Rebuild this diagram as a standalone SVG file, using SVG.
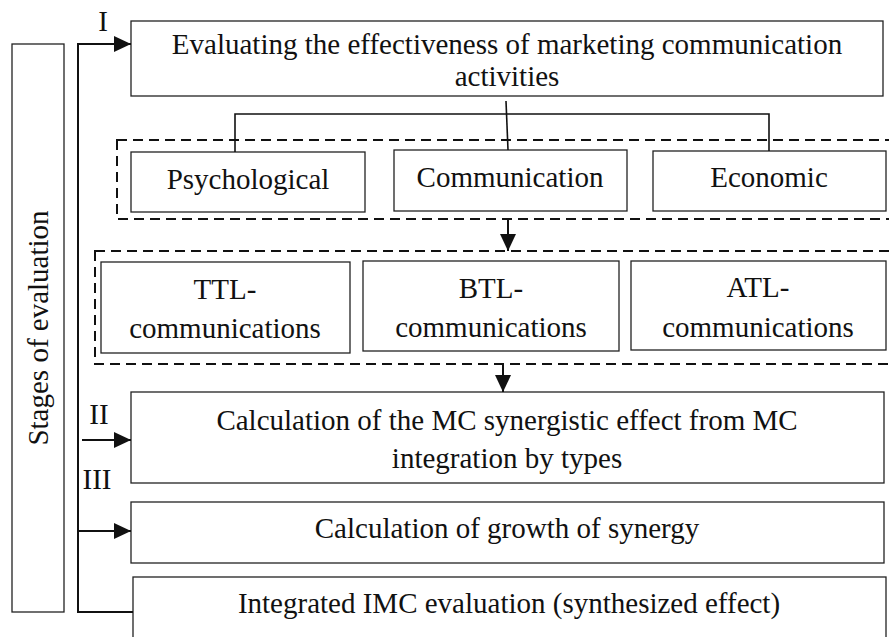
<svg xmlns="http://www.w3.org/2000/svg" width="889" height="637" viewBox="0 0 889 637">
<style>
.box{fill:#fff;stroke:#222;stroke-width:1.3}
.dash{fill:none;stroke:#111;stroke-width:2;stroke-dasharray:10 6}
.ln{fill:none;stroke:#111;stroke-width:1.6}
.br{fill:none;stroke:#111;stroke-width:2}
text{font-family:"Liberation Serif","Times New Roman",serif;font-size:29px;fill:#111;text-anchor:middle}
</style>
<defs>
<marker id="ah" markerUnits="userSpaceOnUse" markerWidth="17" markerHeight="16" refX="17" refY="8" orient="auto">
<path d="M0,0 L17,8 L0,16 z" fill="#111"/>
</marker>
</defs>
<rect width="889" height="637" fill="#fff"/>

<g id="stages">
<rect class="box" x="12" y="44" width="52" height="568"/>
<text transform="translate(48,328) rotate(-90)">Stages of evaluation</text>
</g>

<g id="dashed-groups">
<rect class="dash" x="117" y="140" width="790" height="79"/>
<rect class="dash" x="95" y="251" width="812" height="113"/>
</g>

<g id="evaluating">
<rect class="box" x="131" y="21" width="752" height="75"/>
<text x="507" y="54">Evaluating the effectiveness of marketing communication</text>
<text x="507" y="86">activities</text>
</g>

<g id="psychological">
<rect class="box" x="131" y="152" width="234" height="60"/>
<text x="248" y="189">Psychological</text>
</g>
<g id="communication">
<rect class="box" x="394" y="150" width="233" height="61"/>
<text x="510" y="187">Communication</text>
</g>
<g id="economic">
<rect class="box" x="653" y="151" width="233" height="60"/>
<text x="769" y="187">Economic</text>
</g>

<g id="ttl">
<rect class="box" x="101" y="262" width="249" height="91"/>
<text x="225" y="299">TTL-</text>
<text x="225" y="338">communications</text>
</g>
<g id="btl">
<rect class="box" x="363" y="261" width="256" height="90"/>
<text x="491" y="298">BTL-</text>
<text x="491" y="337">communications</text>
</g>
<g id="atl">
<rect class="box" x="631" y="261" width="255" height="89"/>
<text x="758" y="297">ATL-</text>
<text x="758" y="337">communications</text>
</g>

<g id="calc-synergy">
<rect class="box" x="131" y="392" width="753" height="91"/>
<text x="507" y="430">Calculation of the MC synergistic effect from MC</text>
<text x="507" y="468">integration by types</text>
</g>
<g id="calc-growth">
<rect class="box" x="131" y="502" width="753" height="61"/>
<text x="507" y="538">Calculation of growth of synergy</text>
</g>
<g id="integrated">
<rect class="box" x="133" y="577" width="753" height="80"/>
<text x="509" y="613">Integrated IMC evaluation (synthesized effect)</text>
</g>

<g id="labels">
<text x="103" y="31">I</text>
<text x="99" y="424">II</text>
<text x="97" y="489">III</text>
</g>

<g id="connectors">
<path class="ln" d="M235,152 V114 H769 V151"/>
<path class="ln" d="M506,101 L508,150"/>
<path class="br" d="M508,219 V251" marker-end="url(#ah)"/>
<path class="br" d="M503,365 V392" marker-end="url(#ah)"/>
<path class="br" d="M131,44 H78 V612 H133"/>
<path class="br" d="M78,44 H131" marker-end="url(#ah)"/>
<path class="br" d="M82,440 H131" marker-end="url(#ah)"/>
<path class="br" d="M78,531 H131" marker-end="url(#ah)"/>
</g>
</svg>
